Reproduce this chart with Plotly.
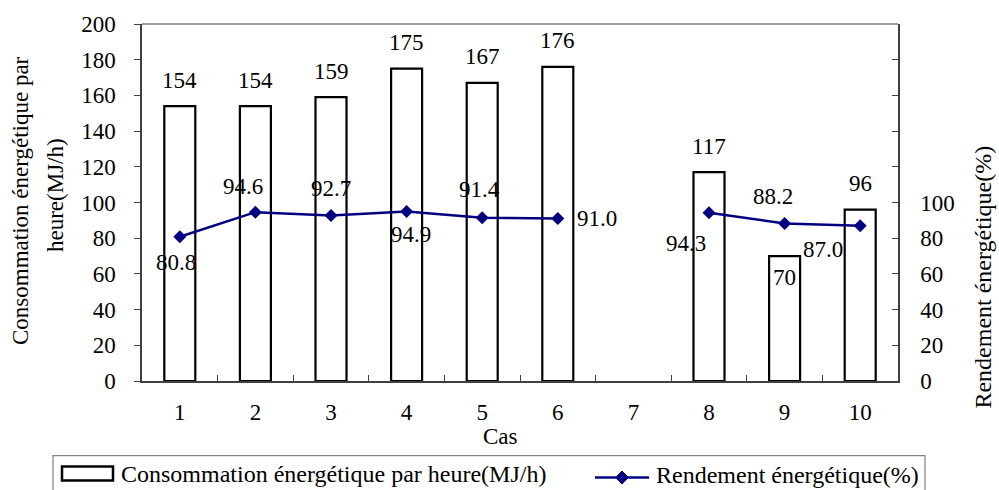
import plotly.graph_objects as go

# Data
cases = ["1", "2", "3", "4", "5", "6", "7", "8", "9", "10"]
consommation = [154, 154, 159, 175, 167, 176, None, 117, 70, 96]   # MJ/h
rendement = [80.8, 94.6, 92.7, 94.9, 91.4, 91.0, None, 94.3, 88.2, 87.0]  # %

left_ticks = list(range(0, 201, 20))
right_tick_labels = ["0", "20", "40", "60", "80", "100", "", "", "", "", ""]

# Label placement (pixel offsets from each mark)
bar_label_shift = [26, 26, 26, 26, 26, 26, 0, 26, -21, 26]
line_label_dx = [-4, -12, 0, 4, -3, 39, 0, -23, -12, -37]
line_label_dy = [-26, 26, 27, -23, 28, 0, 0, -31, 27, -24]

FONT = "Liberation Serif, Times New Roman, serif"
NAVY = "#000080"
W, H = 999, 490
L, R, T, B = 142, 101, 22, 109
PW, PH = W - L - R, H - T - B


def px(x):
    return (x - L) / PW


def py(y):
    return (H - B - y) / PH


fig = go.Figure()

fig.add_trace(go.Bar(
    x=cases, y=consommation, width=0.41,
    marker=dict(color="white", line=dict(color="black", width=2.2)),
    name="Consommation énergétique par heure(MJ/h)",
    yaxis="y", showlegend=False,
))

fig.add_trace(go.Scatter(
    x=cases, y=rendement, mode="lines+markers",
    line=dict(color=NAVY, width=2.5),
    marker=dict(symbol="diamond", size=10, color=NAVY),
    connectgaps=False,
    name="Rendement énergétique(%)",
    yaxis="y2", showlegend=False,
))

annotations = []
# category positions on the x axis are indexed 0..n-1
for i, (v, s) in enumerate(zip(consommation, bar_label_shift)):
    if v is None:
        continue
    annotations.append(dict(
        x=i, y=v, xref="x", yref="y", text=str(v), showarrow=False,
        xanchor="center", yanchor="middle", yshift=s,
        font=dict(family=FONT, size=23, color="black"),
    ))
for i, (v, dx, dy) in enumerate(zip(rendement, line_label_dx, line_label_dy)):
    if v is None:
        continue
    annotations.append(dict(
        x=i, y=v, xref="x", yref="y2", text=f"{v:.1f}", showarrow=False,
        xanchor="center", yanchor="middle", xshift=dx, yshift=dy,
        font=dict(family=FONT, size=23, color="black"),
    ))

# Axis titles
annotations += [
    dict(x=px(20), y=py(200), xref="paper", yref="paper", text="Consommation énergétique par",
         textangle=-90, showarrow=False, xanchor="center", yanchor="middle",
         font=dict(family=FONT, size=23, color="black")),
    dict(x=px(55), y=py(194), xref="paper", yref="paper", text="heure(MJ/h)",
         textangle=-90, showarrow=False, xanchor="center", yanchor="middle",
         font=dict(family=FONT, size=23, color="black")),
    dict(x=px(983), y=py(276), xref="paper", yref="paper", text="Rendement énergétique(%)",
         textangle=-90, showarrow=False, xanchor="center", yanchor="middle",
         font=dict(family=FONT, size=24, color="black")),
    dict(x=px(500), y=py(437), xref="paper", yref="paper", text="Cas",
         showarrow=False, xanchor="center", yanchor="middle",
         font=dict(family=FONT, size=23, color="black")),
]

# Legend entries
annotations += [
    dict(x=px(119), y=py(475), xref="paper", yref="paper",
         text="Consommation énergétique par heure(MJ/h)", showarrow=False,
         xanchor="left", yanchor="middle", font=dict(family=FONT, size=24, color="black")),
    dict(x=px(654), y=py(476), xref="paper", yref="paper",
         text="Rendement énergétique(%)", showarrow=False,
         xanchor="left", yanchor="middle", font=dict(family=FONT, size=24, color="black")),
]

shapes = [
    # top border of the plot area
    dict(type="line", xref="paper", yref="paper", x0=0, x1=1, y0=1, y1=1,
         line=dict(color="#808080", width=1.5)),
    # legend frame
    dict(type="rect", xref="paper", yref="paper", x0=px(53), x1=px(925), y0=py(456), y1=py(500),
         line=dict(color="#808080", width=1.2), fillcolor="rgba(0,0,0,0)"),
    # legend bar swatch
    dict(type="rect", xref="paper", yref="paper", x0=px(62), x1=px(113), y0=py(467), y1=py(481),
         line=dict(color="black", width=2.5), fillcolor="white"),
    # legend line swatch
    dict(type="line", xref="paper", yref="paper", x0=px(595), x1=px(649), y0=py(478), y1=py(478),
         line=dict(color=NAVY, width=2.5)),
    dict(type="path", xref="paper", yref="paper",
         path=f"M {px(622)},{py(471.5)} L {px(628.5)},{py(478)} L {px(622)},{py(484.5)} L {px(615.5)},{py(478)} Z",
         line=dict(color=NAVY, width=1), fillcolor=NAVY),
]

fig.update_layout(
    width=W, height=H, autosize=False,
    margin=dict(l=L, r=R, t=T, b=B, pad=0),
    paper_bgcolor="white", plot_bgcolor="white",
    font=dict(family=FONT, size=23, color="black"),
    showlegend=False,
    bargap=0.59,
    xaxis=dict(
        type="category", range=[-0.5, 9.5], tickson="boundaries",
        ticks="inside", ticklen=6, tickwidth=1.2, tickcolor="#404040",
        showline=True, linecolor="#404040", linewidth=1.5,
        showgrid=False, zeroline=False, ticklabelstandoff=10,
        tickfont=dict(family=FONT, size=23, color="black"),
    ),
    yaxis=dict(
        range=[0, 200], tickvals=left_ticks, ticks="outside", ticklen=6,
        tickwidth=1.2, tickcolor="#404040",
        showline=True, linecolor="#404040", linewidth=1.5,
        showgrid=False, zeroline=False, ticklabelstandoff=14,
        tickfont=dict(family=FONT, size=23, color="black"),
    ),
    yaxis2=dict(
        overlaying="y", side="right", range=[0, 200],
        tickvals=left_ticks, ticktext=right_tick_labels,
        ticks="inside", ticklen=6, tickwidth=1.2, tickcolor="#404040",
        showline=True, linecolor="#404040", linewidth=1.5,
        showgrid=False, zeroline=False, ticklabelstandoff=16,
        tickfont=dict(family=FONT, size=23, color="black"),
    ),
    annotations=annotations,
    shapes=shapes,
)

fig.write_html("out.html")
